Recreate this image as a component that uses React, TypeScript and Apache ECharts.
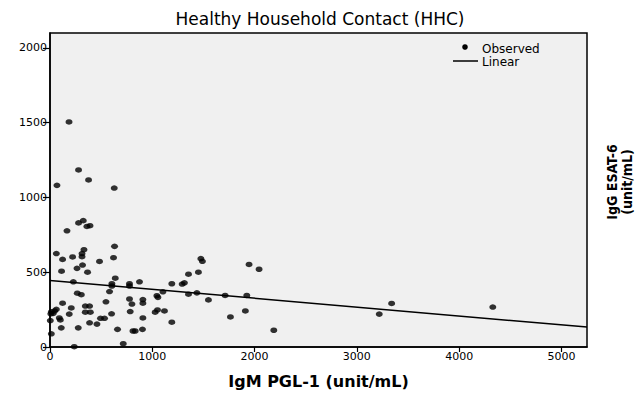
import React, { useEffect, useRef } from "react";
import * as echarts from "echarts";

// IgM PGL-1 (unit/mL) of each observed contact
const igmPgl1 = [
  186, 279, 377, 68, 628, 279, 325, 361, 391, 166,
  62, 123, 221, 313, 313, 332, 631, 484, 621, 113,
  264, 318, 367, 228, 638, 605, 605, 777, 777, 875,
  267, 306, 582, 547, 777, 801, 908, 908, 123, 208,
  62, 45, 13, 32, 8, 345, 387, 345, 394, 188,
  602, 784, 908, 91, 101, 3, 494, 533, 387, 459,
  110, 276, 660, 811, 833, 904, 13, 237, 716, 1028,
  1051, 1119, 1191, 1045, 1055, 1104, 1191, 1292, 1314, 1354,
  1451, 1475, 1490, 1354, 1436, 1549, 1712, 1764, 1924, 1910,
  1946, 2044, 2188, 3340, 3219, 4329,
];
// IgG ESAT-6 (unit/mL) of the same contacts
const iggEsat6 = [
  1505, 1184, 1117, 1081, 1063, 830, 845, 806, 811, 777,
  625, 586, 602, 625, 604, 651, 673, 572, 597, 507,
  526, 548, 500, 436, 460, 423, 408, 423, 408, 436,
  360, 350, 371, 302, 321, 287, 317, 293, 293, 261,
  252, 241, 235, 225, 222, 274, 274, 233, 233, 220,
  222, 237, 194, 194, 181, 177, 192, 192, 162, 153,
  128, 128, 118, 107, 107, 118, 88, 2, 22, 233,
  248, 241, 166, 343, 332, 369, 423, 421, 429, 487,
  500, 591, 573, 353, 362, 315, 345, 201, 345, 241,
  552, 520, 112, 291, 220, 267,
];
// Linear fit
const fitIntercept = 445;
const fitSlope = -0.0594;

const xTicks = [0, 1000, 2000, 3000, 4000, 5000];
const yTicks = [0, 500, 1000, 1500, 2000];
const xMax = 5250;
const yMax = 2100;

const titleText = "Healthy Household Contact (HHC)";
const xName = "IgM PGL-1 (unit/mL)";
const yNameLines = ["IgG ESAT-6", "(unit/mL)"];
const legendItems = ["Observed", "Linear"];

export default function App() {
  const ref = useRef<HTMLDivElement>(null);
  useEffect(() => {
    if (!ref.current) return;
    const chart = echarts.init(ref.current, null, { renderer: "svg" });
    const points = igmPgl1.map((x, i) => [x, iggEsat6[i]]);
    const fitLine = [0, xMax].map((x) => [x, fitIntercept + fitSlope * x]);
    const tickFont = {
      color: "#000",
      fontFamily: "DejaVu Sans, sans-serif",
      fontSize: 11,
      formatter: (v: number) => String(v),
    };
    chart.setOption({
      animation: false,
      backgroundColor: "#fff",
      title: {
        text: titleText,
        left: 315,
        textAlign: "center",
        top: 5,
        textStyle: { color: "#000", fontFamily: "DejaVu Sans, sans-serif", fontSize: 17, fontWeight: "normal" },
      },
      grid: {
        left: 50,
        right: 55,
        top: 33,
        bottom: 37,
        show: true,
        backgroundColor: "#f0f0f0",
        borderColor: "#000",
        borderWidth: 1.5,
      },
      xAxis: {
        type: "value",
        min: 0,
        max: xMax,
        splitLine: { show: false },
        axisLine: { show: true, lineStyle: { color: "#000", width: 1.5 } },
        axisTick: { show: true, inside: false, length: 5, lineStyle: { color: "#000", width: 1.2 }, customValues: xTicks },
        axisLabel: { ...tickFont, margin: 4, customValues: xTicks },
        name: xName,
        nameLocation: "middle",
        nameGap: 26,
        nameTextStyle: { color: "#000", fontFamily: "DejaVu Sans, sans-serif", fontSize: 16, fontWeight: "bold" },
      },
      yAxis: {
        type: "value",
        min: 0,
        max: yMax,
        splitLine: { show: false },
        axisLine: { show: true, lineStyle: { color: "#000", width: 1.5 } },
        axisTick: { show: true, inside: false, length: 7, lineStyle: { color: "#000", width: 1.2 }, customValues: yTicks },
        axisLabel: { ...tickFont, margin: 3, customValues: yTicks },
      },
      graphic: [
        { type: "circle", shape: { cx: 465, cy: 47, r: 2.8 }, style: { fill: "#000" }, z: 100 },
        {
          type: "text",
          x: 482,
          y: 49,
          style: { text: legendItems[0], fill: "#000", font: "12px 'DejaVu Sans', sans-serif", textVerticalAlign: "middle" },
          z: 100,
        },
        { type: "line", shape: { x1: 453, y1: 61, x2: 478, y2: 61 }, style: { stroke: "#000", lineWidth: 1.5 }, z: 100 },
        {
          type: "text",
          x: 482,
          y: 62,
          style: { text: legendItems[1], fill: "#000", font: "12px 'DejaVu Sans', sans-serif", textVerticalAlign: "middle" },
          z: 100,
        },
        {
          type: "text",
          x: 612,
          y: 182,
          rotation: Math.PI / 2,
          style: {
            text: yNameLines[0],
            fill: "#000",
            font: "bold 14px 'Liberation Sans Narrow', 'DejaVu Sans Condensed', sans-serif",
            textAlign: "center",
            textVerticalAlign: "middle",
          },
        },
        {
          type: "text",
          x: 627,
          y: 182,
          rotation: Math.PI / 2,
          style: {
            text: yNameLines[1],
            fill: "#000",
            font: "bold 14px 'Liberation Sans Narrow', 'DejaVu Sans Condensed', sans-serif",
            textAlign: "center",
            textVerticalAlign: "middle",
          },
        },
      ],
      series: [
        {
          name: legendItems[1],
          type: "line",
          data: fitLine,
          showSymbol: false,
          lineStyle: { color: "#000", width: 1.5 },
          z: 2,
        },
        {
          name: legendItems[0],
          type: "scatter",
          data: points,
          symbol: "circle",
          symbolSize: [7, 5.5],
          itemStyle: { color: "#000" },
          z: 3,
        },
      ],
    });
    return () => chart.dispose();
  }, []);
  return <div ref={ref} style={{ position: "fixed", left: 0, top: 0, width: 642, height: 394 }} />;
}
